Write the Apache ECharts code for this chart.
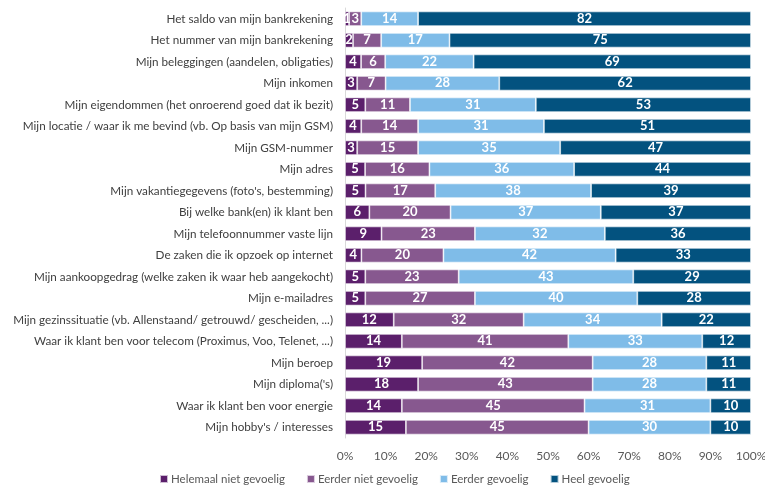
<!DOCTYPE html>
<html>
<head>
<meta charset="utf-8">
<script src="https://cdn.jsdelivr.net/npm/echarts@6/dist/echarts.min.js"></script>
<style>html,body{margin:0;padding:0;background:#fff}#c{width:765px;height:488px}</style>
</head>
<body>
<div id="c"></div>
<script>
const categories = [
  "Het saldo van mijn bankrekening",
  "Het nummer van mijn bankrekening",
  "Mijn beleggingen (aandelen, obligaties)",
  "Mijn inkomen",
  "Mijn eigendommen (het onroerend goed dat ik bezit)",
  "Mijn locatie / waar ik me bevind (vb. Op basis van mijn GSM)",
  "Mijn GSM-nummer",
  "Mijn adres",
  "Mijn vakantiegegevens (foto's, bestemming)",
  "Bij welke bank(en) ik klant ben",
  "Mijn telefoonnummer vaste lijn",
  "De zaken die ik opzoek op internet",
  "Mijn aankoopgedrag (welke zaken ik waar heb aangekocht)",
  "Mijn e-mailadres",
  "Mijn gezinssituatie (vb. Allenstaand/ getrouwd/ gescheiden, ...)",
  "Waar ik klant ben voor telecom (Proximus, Voo, Telenet, ...)",
  "Mijn beroep",
  "Mijn diploma('s)",
  "Waar ik klant ben voor energie",
  "Mijn hobby's / interesses"
];
const helemaalNiet = [1,2,4,3,5,4,3,5,5,6,9,4,5,5,12,14,19,18,14,15];
const eerderNiet   = [3,7,6,7,11,14,15,16,17,20,23,20,23,27,32,41,42,43,45,45];
const eerder       = [14,17,22,28,31,31,35,36,38,37,32,42,43,40,34,33,28,28,31,30];
const heel         = [82,75,69,62,53,51,47,44,39,37,36,33,29,28,22,12,11,11,10,10];
const seriesNames = ["Helemaal niet gevoelig","Eerder niet gevoelig","Eerder gevoelig","Heel gevoelig"];
const colors = ["#5B1F6B","#87588F","#7FBCE8","#03527F"];
const xTicks = [0,10,20,30,40,50,60,70,80,90,100];

const raw = [helemaalNiet, eerderNiet, eerder, heel];
const totals = categories.map((_, i) => raw.reduce((s, a) => s + a[i], 0));

const series = raw.map((arr, k) => ({
  name: seriesNames[k],
  type: 'bar',
  stack: 'total',
  barCategoryGap: '32%',
  itemStyle: { color: colors[k], borderColor: 'rgba(255,255,255,0.7)', borderWidth: 0.8 },
  label: {
    show: true,
    position: 'inside',
    color: '#fff',
    fontWeight: 'bold',
    fontSize: 13,
    fontFamily: 'Lato',
    formatter: p => String(arr[p.dataIndex])
  },
  data: arr.map((v, i) => v / totals[i] * 100)
}));

const chart = echarts.init(document.getElementById('c'));
chart.setOption({
  animation: false,
  color: colors,
  grid: { left: 345, right: 14, top: 8, bottom: 50, containLabel: false, outerBoundsMode: 'none' },
  legend: {
    top: 473,
    left: 159,
    padding: 0,
    itemWidth: 8,
    itemHeight: 8,
    itemGap: 21,
    icon: 'rect',
    textStyle: { color: '#595959', fontSize: 11.5, fontFamily: 'Lato', padding: [0, 0, 0, -2] },
    data: seriesNames
  },
  xAxis: {
    type: 'value',
    min: 0,
    max: 100,
    interval: 10,
    axisLabel: { color: '#595959', fontSize: 12, fontFamily: 'Lato', formatter: v => xTicks.includes(v) ? v + '%' : '', margin: 12 },
    splitLine: { show: false },
    axisLine: { show: false },
    axisTick: { show: false }
  },
  yAxis: {
    type: 'category',
    inverse: true,
    data: categories,
    axisLine: { show: true, lineStyle: { color: '#D9D9D9' } },
    axisTick: { show: false },
    axisLabel: { color: '#404040', fontSize: 11.7, fontFamily: 'Lato', margin: 12 }
  },
  series: series
});
</script>
</body>
</html>
